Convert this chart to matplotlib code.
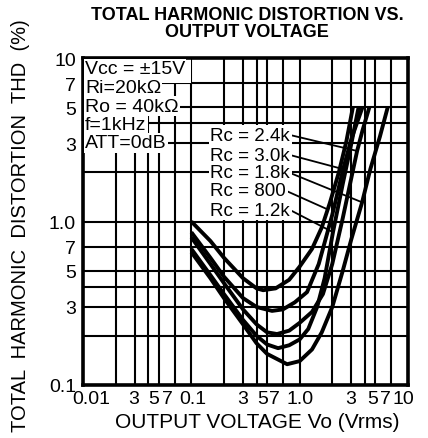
import matplotlib
matplotlib.use('Agg')
import matplotlib.pyplot as plt
import matplotlib.transforms as mtransforms
from matplotlib.patches import Rectangle

plt.rcParams['font.family'] = ['Liberation Sans', 'DejaVu Sans']

# ---------------- data ----------------
title = "TOTAL HARMONIC DISTORTION VS.\nOUTPUT VOLTAGE"
xlabel = "OUTPUT VOLTAGE Vo (Vrms)"
ylabel = "TOTAL  HARMONIC  DISTORTION  THD  (%)"

xtick_vals = [0.01, 0.03, 0.05, 0.07, 0.1, 0.3, 0.5, 0.7, 1.0, 3, 5, 7, 10]
xtick_labels = ["0.01", "3", "5", "7", "0.1", "3", "5", "7", "1.0", "3", "5", "7", "10"]
ytick_vals = [10, 7, 5, 3, 1.0, 0.7, 0.5, 0.3, 0.1]
ytick_labels = ["10", "7", "5", "3", "1.0", "7", "5", "3", "0.1"]
grid_minor = [0.02, 0.04, 0.2, 0.4, 2, 4]

conditions = ["Vcc = \u00b115V", "Ri=20k\u03a9", "Ro = 40k\u03a9", "f=1kHz", "ATT=0dB"]

# curves (Vo in Vrms, THD in %)
x_800 = [0.1, 0.15, 0.2, 0.3, 0.4, 0.46, 0.6, 0.8, 1.0, 1.3, 1.6, 1.9, 2.3, 2.7, 3.1]
y_800 = [1.0, 0.76, 0.6, 0.45, 0.39, 0.38, 0.39, 0.44, 0.53, 0.68, 0.92, 1.3, 2.0, 3.1, 5.0]

x_3k0 = [0.1, 0.15, 0.2, 0.3, 0.4, 0.556, 0.7, 0.9, 1.17, 1.5, 2.0, 2.52, 3.0, 3.8]
y_3k0 = [0.86, 0.6, 0.46, 0.34, 0.3, 0.284, 0.29, 0.32, 0.37, 0.55, 1.1, 2.09, 3.2, 5.0]

x_2k4 = [0.1, 0.15, 0.2, 0.3, 0.4, 0.5, 0.618, 0.8, 1.0, 1.3, 1.64, 2.0, 2.5, 3.0, 3.39, 3.8, 4.4]
y_2k4 = [0.80, 0.55, 0.42, 0.29, 0.235, 0.21, 0.205, 0.215, 0.24, 0.28, 0.36, 0.55, 1.05, 1.85, 2.7, 3.6, 5.0]

x_1k2 = [0.1, 0.15, 0.2, 0.3, 0.4, 0.5, 0.632, 0.8, 1.0, 1.2, 1.45, 1.7, 2.03, 2.5, 3.0, 3.5]
y_1k2 = [0.68, 0.47, 0.36, 0.25, 0.2, 0.177, 0.168, 0.175, 0.19, 0.22, 0.3, 0.45, 0.86, 1.7, 3.0, 5.0]

x_1k8 = [0.1, 0.15, 0.2, 0.3, 0.4, 0.5, 0.766, 1.0, 1.3, 1.6, 2.0, 2.5, 3.0, 3.77, 4.5, 5.5, 6.5]
y_1k8 = [0.65, 0.45, 0.34, 0.235, 0.18, 0.155, 0.134, 0.14, 0.165, 0.21, 0.3, 0.5, 0.78, 1.31, 2.1, 3.3, 5.0]

rc_labels = ["Rc = 2.4k", "Rc = 3.0k", "Rc = 1.8k", "Rc = 800", "Rc = 1.2k"]
rc_label_y = [3.38, 2.55, 1.98, 1.54, 1.175]
rc_point_x = [3.39, 2.52, 3.77, 1.79, 2.03]
rc_point_y = [2.70, 2.09, 1.31, 1.19, 0.86]

curves = [(x_800, y_800), (x_3k0, y_3k0), (x_2k4, y_2k4), (x_1k2, y_1k2), (x_1k8, y_1k8)]

# ---------------- figure ----------------
fig = plt.figure(figsize=(4.28, 4.39), dpi=100)
ax = fig.add_axes([83/428, 1-386/439, 325/428, 327/439])
ax.set_xscale('log')
ax.set_yscale('log')
ax.set_xlim(0.01, 10)
ax.set_ylim(0.1, 10)

ax.set_xticks(xtick_vals)
ax.set_xticklabels([])
ax.set_xticks(grid_minor, minor=True)
ax.set_yticks(ytick_vals)
ax.set_yticklabels(ytick_labels, fontsize=14)
ax.set_yticks([0.2, 0.4, 2, 4], minor=True)
ax.yaxis.set_minor_formatter(matplotlib.ticker.NullFormatter())
ax.xaxis.set_minor_formatter(matplotlib.ticker.NullFormatter())
ax.tick_params(which='both', length=0)
ax.tick_params(axis='y', pad=5)
ax.grid(True, which='both', color='black', lw=1.5)
ax.set_axisbelow(True)
for s in ax.spines.values():
    s.set_linewidth(2.6)

# x tick labels with small hand-placed offsets (px)
x_offsets_px = [8, -1, -5, -7, 1, 0, -4, -8, 0, -1, -3, -6, -5]
base = mtransforms.blended_transform_factory(ax.transData, ax.transAxes)
for v, lab, dx in zip(xtick_vals, xtick_labels, x_offsets_px):
    tr = base + mtransforms.ScaledTranslation(dx/100, -5/100, fig.dpi_scale_trans)
    ax.text(v, 0, lab, transform=tr, ha='center', va='top', fontsize=14)

# white block upper-left
ax.add_patch(Rectangle((0, 0.9225), 0.333, 0.08, transform=ax.transAxes,
                       facecolor='white', edgecolor='none', zorder=1.5))

# curves
for xs, ys in curves:
    ax.plot(xs, ys, color='black', lw=2.8, solid_capstyle='butt', zorder=3)

# condition text
for i, t in enumerate(conditions):
    ypix = 70 + i*18.5
    yax = (386 - ypix) / 327
    ax.text(0.006, yax, t, transform=ax.transAxes, ha='left', va='center',
            fontsize=14, zorder=4,
            bbox=dict(facecolor='white', edgecolor='none', pad=0.8))

# Rc labels with leader lines
for lab, ly, px, py in zip(rc_labels, rc_label_y, rc_point_x, rc_point_y):
    ax.annotate(lab, xy=(px, py), xytext=(0.15, ly), textcoords='data',
                ha='left', va='center', fontsize=13.5, zorder=4,
                bbox=dict(facecolor='white', edgecolor='none', pad=1.2),
                arrowprops=dict(arrowstyle='-', lw=1.3, color='black',
                                relpos=(1, 0.5), shrinkA=0, shrinkB=0))

fig.text(247/428, 1-7/439, title, ha='center', va='top', fontsize=13,
         fontweight='bold', linespacing=1.0)
fig.text(257/428, 1-423/439, xlabel, ha='center', va='center', fontsize=15)
fig.text(21/428, 1-226/439, ylabel, ha='center', va='center', fontsize=14.5,
         rotation=90)

fig.savefig('out.png', dpi=100, facecolor='white')
